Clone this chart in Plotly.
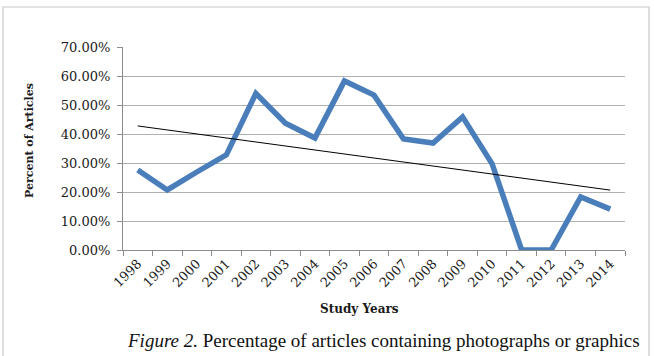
import numpy as np
import plotly.graph_objects as go

years = ["1998", "1999", "2000", "2001", "2002", "2003", "2004", "2005", "2006",
         "2007", "2008", "2009", "2010", "2011", "2012", "2013", "2014"]
percent = [0.276, 0.207, 0.269, 0.328, 0.540, 0.437, 0.386, 0.583, 0.534,
           0.383, 0.369, 0.459, 0.297, 0.0, 0.0, 0.183, 0.141]
y_ticks = [0, 0.1, 0.2, 0.3, 0.4, 0.5, 0.6, 0.7]

W, H = 654, 356
L, R, T, B = 123, 29, 47, 106

idx = np.arange(len(years))
slope, intercept = np.polyfit(idx, np.array(percent), 1)
trend = list(slope * idx + intercept)

fig = go.Figure()
fig.add_trace(go.Scatter(x=years, y=percent, mode="lines",
                         line=dict(color="#4a7ebb", width=5.5),
                         hoverinfo="skip", showlegend=False))
fig.add_trace(go.Scatter(x=[years[0], years[-1]], y=[trend[0], trend[-1]], mode="lines",
                         line=dict(color="#000000", width=1),
                         hoverinfo="skip", showlegend=False))

serif = "DejaVu Serif"
fig.update_layout(
    width=W, height=H,
    margin=dict(l=L, r=R, t=T, b=B),
    paper_bgcolor="white", plot_bgcolor="white",
    font=dict(family=serif, size=12, color="#1a1a1a"),
    xaxis=dict(type="category", categoryorder="array", categoryarray=years,
               range=[-0.5, len(years) - 0.5],
               showgrid=False, showline=True, linecolor="#8c8c8c", linewidth=1,
               ticks="outside", tickson="boundaries", ticklen=5, tickcolor="#8c8c8c",
               tickangle=-45, tickfont=dict(family=serif, size=13, color="#1a1a1a"),
               fixedrange=True),
    yaxis=dict(range=[0, 0.7], tickvals=y_ticks, tickformat=".2%",
               showgrid=True, gridcolor="#b0b0b0", gridwidth=1,
               showline=True, linecolor="#8c8c8c", linewidth=1,
               ticks="outside", ticklen=5, tickcolor="#8c8c8c",
               ticklabelstandoff=4,
               tickfont=dict(family=serif, size=13, color="#1a1a1a"),
               zeroline=False, fixedrange=True),
)

# Chart frame
fig.add_shape(type="rect", xref="paper", yref="paper",
              x0=(3 - L) / (W - L - R), x1=(649 - L) / (W - L - R),
              y0=(H - B - 400) / (H - T - B), y1=(H - B - 7) / (H - T - B),
              line=dict(color="#c8c8c8", width=1.2), fillcolor="rgba(0,0,0,0)", layer="below")

def px_x(x):
    return (x - L) / (W - L - R)

def px_y(y):
    return (H - B - y) / (H - T - B)

fig.add_annotation(text="<b>Percent of Articles</b>", xref="paper", yref="paper",
                   x=px_x(29), y=px_y(141), showarrow=False, textangle=-90,
                   font=dict(family=serif, size=11, color="#1a1a1a"),
                   xanchor="center", yanchor="middle")
fig.add_annotation(text="<b>Study Years</b>", xref="paper", yref="paper",
                   x=px_x(359), y=px_y(309), showarrow=False,
                   font=dict(family=serif, size=12, color="#1a1a1a"),
                   xanchor="center", yanchor="middle")
fig.add_annotation(text="<i>Figure 2.</i> Percentage of articles containing photographs or graphics",
                   xref="paper", yref="paper",
                   x=px_x(383), y=px_y(340), showarrow=False,
                   font=dict(family="Liberation Serif", size=19, color="#111111"),
                   xanchor="center", yanchor="middle")

fig.write_html("out.html", config={"displayModeBar": False})
